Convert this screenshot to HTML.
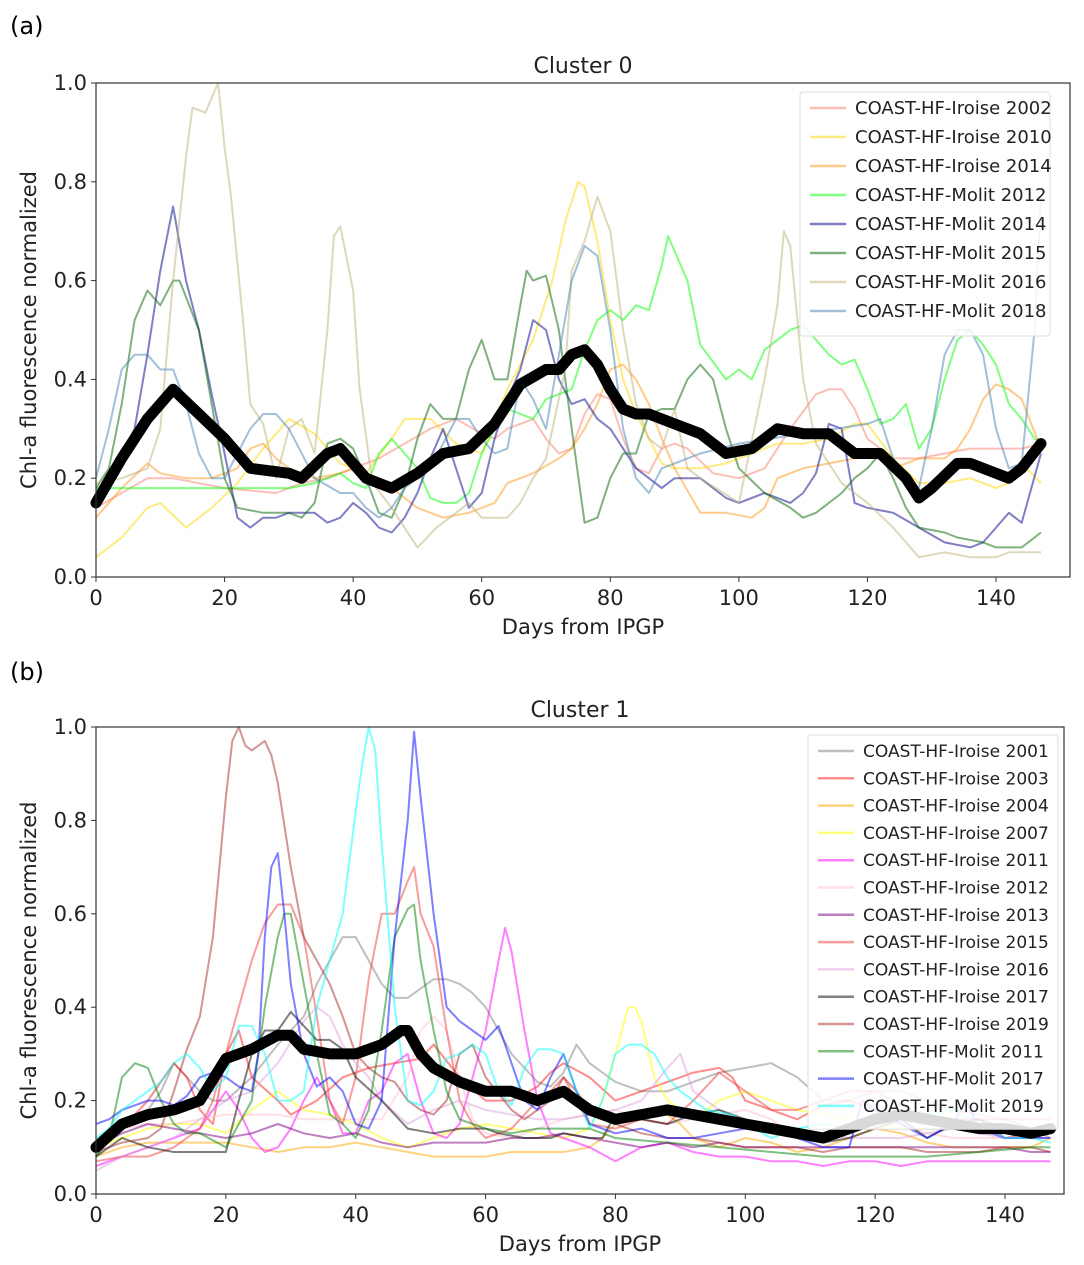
<!DOCTYPE html>
<html><head><meta charset="utf-8">
<style>
body{margin:0;background:#fff;}
svg{display:block;font-family:"DejaVu Sans","Liberation Sans",sans-serif;}
</style></head>
<body>
<svg id="fig" width="1084" height="1265" viewBox="0 0 1084 1265" xmlns="http://www.w3.org/2000/svg">
<text x="10" y="34" font-size="24">(a)</text>
<text x="10" y="680" font-size="24">(b)</text>
</svg>
<script>
// ---------- Panel A data ----------
const catA = ["COAST-HF-Iroise 2002","COAST-HF-Iroise 2010","COAST-HF-Iroise 2014","COAST-HF-Molit 2012","COAST-HF-Molit 2014","COAST-HF-Molit 2015","COAST-HF-Molit 2016","COAST-HF-Molit 2018"];
const colA = ["rgba(250,128,114,0.5)","rgba(255,215,0,0.5)","rgba(255,140,0,0.45)","rgba(0,255,0,0.5)","rgba(0,0,139,0.5)","rgba(0,100,0,0.5)","rgba(189,178,120,0.5)","rgba(70,130,180,0.5)"];
const a_iro2002 = [[0,.14],[4,.17],[8,.2],[12,.2],[20,.18],[28,.17],[32,.19],[36,.2],[40,.22],[44,.24],[48,.27],[52,.3],[56,.32],[60,.29],[62,.28],[64,.3],[66,.31],[68,.32],[70,.28],[72,.25],[74,.26],[76,.33],[78,.37],[80,.36],[82,.28],[84,.22],[86,.21],[88,.26],[90,.27],[92,.26],[96,.21],[100,.2],[104,.22],[108,.3],[112,.37],[114,.38],[116,.38],[118,.34],[120,.28],[124,.24],[128,.24],[132,.25],[136,.26],[140,.26],[144,.26],[147,.27]];
const a_iro2010 = [[0,.04],[4,.08],[8,.14],[10,.15],[14,.1],[18,.14],[22,.19],[26,.26],[30,.32],[34,.29],[38,.23],[42,.21],[46,.28],[48,.32],[52,.32],[56,.27],[60,.25],[64,.38],[68,.48],[71,.6],[73,.72],[75,.8],[76,.79],[78,.68],[80,.52],[82,.4],[84,.33],[86,.28],[88,.23],[90,.22],[94,.22],[98,.23],[102,.25],[106,.27],[110,.27],[114,.28],[118,.31],[120,.31],[124,.24],[128,.19],[132,.19],[136,.2],[140,.18],[142,.19],[144,.23],[147,.19]];
const a_iro2014 = [[0,.12],[4,.18],[8,.23],[10,.21],[14,.2],[18,.2],[22,.22],[24,.26],[26,.27],[28,.24],[30,.22],[34,.2],[38,.21],[40,.22],[44,.2],[50,.14],[54,.12],[58,.13],[62,.15],[64,.19],[66,.2],[68,.21],[72,.24],[74,.26],[76,.3],[78,.35],[80,.42],[82,.43],[84,.4],[86,.35],[88,.28],[90,.22],[94,.13],[98,.13],[102,.12],[104,.14],[106,.2],[110,.22],[114,.23],[118,.24],[120,.26],[124,.22],[128,.24],[132,.24],[134,.26],[136,.3],[138,.36],[140,.39],[142,.38],[144,.36],[147,.26]];
const a_mol2012 = [[0,.18],[10,.18],[22,.18],[30,.18],[34,.19],[36,.2],[38,.21],[40,.19],[42,.18],[44,.25],[46,.28],[48,.25],[50,.22],[52,.16],[54,.15],[56,.15],[58,.17],[60,.25],[62,.3],[64,.34],[66,.33],[68,.32],[70,.36],[72,.37],[74,.38],[76,.46],[78,.52],[80,.54],[82,.52],[84,.55],[86,.54],[88,.63],[89,.69],[92,.6],[94,.47],[98,.4],[100,.42],[102,.4],[104,.46],[108,.5],[110,.51],[112,.48],[114,.45],[116,.43],[118,.44],[120,.38],[122,.31],[124,.32],[126,.35],[128,.26],[130,.3],[132,.4],[134,.48],[136,.5],[138,.47],[140,.43],[142,.35],[144,.32],[146,.28],[147,.27]];
const a_mol2014 = [[0,.17],[2,.2],[6,.3],[8,.45],[10,.62],[12,.75],[14,.6],[16,.5],[18,.37],[20,.25],[22,.12],[24,.1],[26,.12],[28,.12],[30,.13],[34,.13],[36,.11],[38,.12],[40,.15],[42,.13],[44,.1],[46,.09],[48,.12],[50,.17],[52,.24],[54,.3],[56,.22],[58,.14],[60,.17],[62,.28],[64,.36],[66,.42],[68,.52],[70,.5],[72,.4],[74,.35],[76,.36],[78,.32],[80,.3],[82,.26],[84,.22],[86,.2],[88,.18],[90,.2],[94,.2],[98,.16],[100,.15],[104,.17],[108,.15],[110,.17],[112,.21],[114,.31],[116,.3],[118,.15],[120,.14],[124,.13],[128,.1],[132,.07],[136,.06],[138,.07],[140,.1],[142,.13],[144,.11],[147,.25]];
const a_mol2015 = [[0,.18],[2,.22],[4,.35],[6,.52],[8,.58],[10,.55],[12,.6],[13,.6],[16,.5],[18,.35],[20,.2],[22,.14],[26,.13],[30,.13],[32,.12],[34,.15],[36,.27],[38,.28],[40,.26],[42,.2],[44,.13],[46,.12],[48,.18],[50,.28],[52,.35],[54,.32],[56,.32],[58,.42],[60,.48],[62,.4],[64,.4],[66,.55],[67,.62],[68,.6],[70,.61],[72,.5],[74,.3],[76,.11],[78,.12],[80,.2],[82,.25],[84,.25],[86,.33],[88,.34],[90,.34],[92,.4],[94,.43],[96,.4],[98,.3],[100,.22],[104,.17],[108,.14],[110,.12],[112,.13],[116,.17],[118,.2],[120,.22],[122,.25],[124,.2],[126,.14],[128,.1],[132,.09],[134,.08],[138,.07],[140,.06],[144,.06],[147,.09]];
const a_mol2016 = [[0,.19],[4,.2],[8,.22],[10,.3],[12,.6],[14,.85],[15,.95],[17,.94],[19,1.0],[20,.87],[21,.77],[23,.5],[24,.35],[26,.31],[28,.2],[30,.3],[32,.32],[34,.25],[36,.5],[37,.69],[38,.71],[40,.58],[41,.38],[43,.19],[46,.14],[50,.06],[53,.1],[56,.13],[58,.15],[60,.12],[64,.12],[66,.15],[68,.2],[70,.24],[73,.42],[74,.62],[76,.68],[78,.77],[80,.7],[82,.5],[84,.35],[86,.28],[88,.26],[90,.34],[92,.22],[94,.2],[100,.15],[104,.4],[106,.55],[107,.7],[108,.67],[110,.4],[112,.27],[116,.19],[120,.15],[124,.1],[128,.04],[132,.05],[136,.04],[140,.04],[142,.05],[147,.05]];
const a_mol2018 = [[0,.2],[2,.3],[4,.42],[6,.45],[8,.45],[10,.42],[12,.42],[14,.35],[16,.25],[18,.2],[20,.2],[22,.25],[24,.3],[26,.33],[28,.33],[30,.3],[34,.2],[38,.17],[40,.17],[42,.14],[44,.12],[46,.14],[48,.18],[50,.2],[52,.22],[54,.27],[56,.32],[58,.32],[60,.28],[62,.25],[64,.26],[66,.4],[68,.36],[70,.3],[72,.45],[74,.6],[76,.67],[78,.65],[80,.5],[82,.3],[84,.2],[86,.17],[88,.22],[90,.23],[94,.25],[100,.27],[110,.29],[120,.31],[122,.32],[124,.24],[126,.2],[128,.18],[130,.3],[132,.45],[134,.5],[136,.5],[138,.45],[140,.3],[142,.22],[144,.23],[146,.5],[147,.77]];
const a_mean = [[0,.15],[4,.24],[8,.32],[12,.38],[16,.33],[20,.28],[24,.22],[30,.21],[32,.2],[36,.25],[38,.26],[42,.2],[46,.18],[50,.21],[54,.25],[58,.26],[62,.31],[66,.39],[70,.42],[72,.42],[74,.45],[76,.46],[78,.43],[80,.38],[82,.34],[84,.33],[86,.33],[90,.31],[94,.29],[98,.25],[102,.26],[106,.3],[110,.29],[114,.29],[118,.25],[122,.25],[126,.2],[128,.16],[130,.18],[134,.23],[136,.23],[140,.21],[142,.2],[144,.22],[147,.27]];
const seriesA = [a_iro2002,a_iro2010,a_iro2014,a_mol2012,a_mol2014,a_mol2015,a_mol2016,a_mol2018];

// ---------- Panel B data ----------
const catB = ["COAST-HF-Iroise 2001","COAST-HF-Iroise 2003","COAST-HF-Iroise 2004","COAST-HF-Iroise 2007","COAST-HF-Iroise 2011","COAST-HF-Iroise 2012","COAST-HF-Iroise 2013","COAST-HF-Iroise 2015","COAST-HF-Iroise 2016","COAST-HF-Iroise 2017","COAST-HF-Iroise 2019","COAST-HF-Molit 2011","COAST-HF-Molit 2017","COAST-HF-Molit 2019"];
const colB = ["rgba(128,128,128,0.5)","rgba(255,0,0,0.45)","rgba(255,165,0,0.5)","rgba(255,255,0,0.5)","rgba(255,0,255,0.5)","rgba(255,192,203,0.5)","rgba(128,0,128,0.5)","rgba(240,60,60,0.5)","rgba(221,160,221,0.5)","rgba(0,0,0,0.5)","rgba(165,42,42,0.5)","rgba(0,128,0,0.5)","rgba(0,0,255,0.5)","rgba(0,255,255,0.5)"];
const b_iro2001 = [[0,.08],[4,.15],[8,.18],[10,.22],[12,.28],[14,.25],[16,.22],[18,.2],[20,.2],[24,.25],[28,.32],[32,.38],[34,.45],[36,.5],[38,.55],[40,.55],[42,.5],[44,.45],[46,.42],[48,.42],[50,.44],[52,.46],[54,.46],[56,.45],[58,.43],[60,.4],[62,.35],[64,.3],[66,.27],[68,.24],[70,.23],[72,.26],[74,.32],[76,.28],[80,.24],[84,.22],[88,.22],[92,.24],[96,.26],[100,.27],[104,.28],[108,.25],[112,.2],[116,.2],[120,.22],[124,.22],[128,.2],[132,.18],[136,.17],[140,.16],[144,.14],[147,.12]];
const b_iro2003 = [[0,.1],[4,.14],[8,.2],[12,.28],[14,.25],[16,.18],[18,.15],[20,.3],[22,.35],[24,.25],[28,.2],[30,.17],[34,.2],[38,.25],[42,.27],[46,.28],[50,.29],[52,.32],[56,.25],[60,.2],[64,.2],[68,.23],[70,.26],[72,.28],[76,.25],[80,.2],[84,.22],[88,.24],[92,.26],[96,.27],[98,.25],[100,.2],[104,.18],[108,.16],[112,.19],[116,.2],[120,.18],[124,.16],[128,.17],[132,.16],[136,.16],[140,.12],[144,.13],[147,.14]];
const b_iro2004 = [[0,.08],[4,.1],[8,.11],[12,.11],[16,.11],[20,.11],[24,.1],[28,.09],[32,.1],[36,.1],[40,.11],[44,.1],[48,.09],[52,.08],[56,.08],[60,.08],[64,.09],[68,.09],[72,.09],[76,.1],[78,.12],[80,.15],[84,.18],[88,.17],[90,.15],[92,.12],[96,.1],[100,.12],[104,.11],[108,.09],[112,.1],[116,.12],[120,.14],[124,.13],[128,.11],[132,.1],[136,.1],[140,.1],[144,.1],[147,.12]];
const b_iro2007 = [[0,.1],[4,.12],[8,.14],[12,.15],[16,.15],[20,.13],[24,.18],[26,.2],[28,.22],[30,.2],[32,.18],[36,.17],[40,.15],[44,.12],[48,.1],[52,.12],[56,.14],[60,.15],[64,.14],[68,.13],[72,.12],[76,.14],[78,.2],[80,.3],[82,.4],[83,.4],[84,.37],[86,.25],[88,.2],[90,.18],[92,.16],[96,.2],[100,.22],[104,.2],[108,.18],[112,.17],[116,.16],[120,.15],[124,.14],[128,.14],[132,.14],[136,.14],[140,.14],[144,.14],[147,.14]];
const b_iro2011 = [[0,.06],[4,.08],[8,.1],[12,.12],[16,.14],[18,.18],[20,.22],[22,.18],[24,.12],[26,.09],[28,.1],[30,.14],[32,.2],[34,.25],[36,.2],[38,.13],[40,.13],[42,.2],[44,.22],[46,.28],[48,.3],[50,.2],[52,.13],[54,.12],[56,.15],[58,.25],[60,.35],[62,.5],[63,.57],[64,.52],[66,.35],[68,.2],[70,.13],[72,.12],[76,.1],[80,.07],[84,.1],[88,.11],[92,.09],[96,.08],[100,.08],[104,.07],[108,.07],[112,.06],[116,.07],[120,.07],[124,.06],[128,.07],[136,.07],[144,.07],[147,.07]];
const b_iro2012 = [[0,.1],[4,.14],[8,.15],[12,.15],[16,.16],[20,.17],[24,.17],[28,.17],[32,.16],[36,.16],[40,.16],[44,.16],[48,.25],[50,.35],[52,.38],[54,.35],[56,.25],[58,.16],[60,.13],[64,.12],[68,.14],[72,.16],[76,.17],[80,.18],[84,.16],[88,.15],[92,.16],[96,.17],[100,.18],[104,.16],[108,.12],[112,.13],[116,.14],[120,.15],[124,.15],[128,.13],[132,.12],[136,.12],[140,.12],[144,.12],[147,.12]];
const b_iro2013 = [[0,.1],[4,.13],[8,.15],[12,.14],[16,.13],[20,.12],[24,.13],[28,.15],[32,.13],[36,.12],[40,.13],[44,.11],[48,.1],[52,.11],[56,.11],[60,.11],[64,.12],[68,.12],[72,.13],[76,.12],[80,.11],[84,.1],[88,.11],[92,.1],[96,.11],[100,.1],[104,.1],[108,.1],[112,.1],[116,.1],[120,.1],[124,.1],[128,.1],[132,.1],[136,.1],[140,.1],[144,.09],[147,.09]];
const b_iro2015 = [[0,.07],[4,.08],[8,.08],[12,.1],[16,.14],[18,.2],[20,.3],[22,.4],[24,.5],[26,.58],[28,.62],[30,.62],[32,.55],[34,.38],[36,.2],[38,.15],[40,.25],[42,.46],[44,.6],[46,.6],[48,.67],[49,.7],[50,.6],[52,.53],[54,.35],[56,.2],[58,.15],[60,.12],[64,.14],[68,.2],[70,.22],[72,.25],[74,.2],[76,.15],[80,.14],[84,.16],[88,.15],[92,.2],[96,.26],[100,.22],[104,.18],[108,.18],[112,.2],[116,.22],[120,.22],[124,.19],[128,.16],[132,.15],[136,.16],[140,.16],[144,.16],[147,.16]];
const b_iro2016 = [[0,.05],[4,.08],[8,.1],[12,.12],[16,.16],[20,.2],[24,.22],[28,.28],[32,.37],[34,.4],[36,.38],[38,.32],[40,.28],[42,.25],[44,.2],[48,.15],[52,.18],[56,.2],[60,.18],[64,.17],[68,.16],[72,.16],[76,.17],[80,.18],[84,.2],[88,.27],[90,.3],[92,.22],[96,.18],[100,.15],[104,.13],[108,.12],[112,.13],[116,.12],[120,.12],[124,.12],[128,.13],[132,.14],[136,.13],[140,.12],[144,.12],[147,.12]];
const b_iro2017 = [[0,.08],[4,.12],[8,.1],[12,.09],[16,.09],[20,.09],[22,.2],[24,.3],[26,.35],[28,.35],[30,.39],[32,.36],[34,.33],[36,.33],[38,.31],[40,.25],[44,.2],[48,.14],[52,.13],[56,.14],[60,.14],[62,.13],[66,.12],[70,.12],[72,.13],[76,.12],[78,.12],[80,.17],[84,.16],[88,.15],[92,.17],[96,.18],[100,.16],[104,.14],[108,.12],[112,.11],[116,.12],[120,.14],[124,.16],[128,.12],[132,.15],[136,.16],[140,.14],[144,.13],[147,.13]];
const b_iro2019 = [[0,.09],[4,.11],[8,.12],[10,.14],[12,.22],[14,.31],[16,.38],[18,.55],[20,.85],[21,.97],[22,1.0],[23,.96],[24,.95],[26,.97],[27,.94],[28,.88],[30,.7],[32,.55],[34,.5],[36,.45],[38,.38],[40,.3],[42,.27],[44,.25],[46,.24],[48,.2],[50,.18],[52,.17],[54,.2],[56,.3],[58,.32],[60,.25],[64,.18],[66,.16],[70,.2],[72,.25],[74,.22],[76,.18],[80,.15],[84,.13],[88,.12],[92,.12],[96,.11],[100,.1],[104,.1],[108,.1],[112,.09],[116,.1],[120,.1],[124,.1],[128,.09],[132,.09],[136,.09],[140,.1],[144,.1],[147,.09]];
const b_mol2011 = [[0,.08],[2,.12],[4,.25],[6,.28],[8,.27],[10,.2],[12,.15],[14,.13],[16,.13],[20,.1],[24,.2],[26,.4],[28,.55],[29,.6],[30,.6],[32,.45],[34,.3],[36,.17],[38,.15],[40,.12],[42,.18],[44,.35],[46,.55],[48,.61],[49,.62],[50,.5],[52,.35],[54,.22],[56,.16],[60,.14],[64,.13],[68,.14],[72,.14],[76,.14],[80,.12],[88,.11],[96,.1],[104,.09],[112,.08],[120,.08],[128,.08],[136,.09],[144,.1],[147,.1]];
const b_mol2017 = [[0,.15],[2,.16],[4,.18],[6,.19],[8,.2],[10,.2],[12,.19],[14,.21],[16,.25],[18,.26],[20,.25],[22,.23],[24,.22],[25,.3],[26,.55],[27,.7],[28,.73],[29,.6],[30,.45],[32,.3],[34,.23],[36,.25],[38,.22],[40,.15],[42,.14],[44,.2],[46,.55],[48,.8],[49,.99],[50,.85],[52,.6],[54,.4],[56,.37],[58,.35],[60,.33],[62,.36],[64,.28],[66,.2],[68,.18],[70,.25],[72,.3],[74,.22],[76,.15],[80,.13],[84,.14],[88,.12],[92,.12],[96,.13],[100,.14],[104,.15],[108,.12],[112,.1],[116,.1],[118,.2],[120,.18],[124,.15],[128,.12],[132,.15],[134,.2],[136,.14],[140,.12],[144,.12],[147,.12]];
const b_mol2019 = [[0,.12],[2,.14],[4,.18],[6,.2],[8,.22],[10,.24],[12,.28],[14,.3],[16,.27],[18,.22],[20,.25],[22,.36],[24,.36],[26,.3],[28,.2],[30,.2],[32,.22],[34,.4],[36,.5],[38,.6],[40,.82],[41,.92],[42,1.0],[43,.95],[44,.75],[46,.4],[48,.2],[50,.19],[52,.22],[54,.29],[56,.3],[58,.32],[60,.3],[62,.22],[64,.19],[66,.27],[68,.31],[70,.31],[72,.3],[74,.22],[76,.14],[78,.2],[80,.3],[82,.32],[84,.32],[86,.3],[88,.25],[90,.22],[94,.18],[98,.17],[100,.15],[104,.12],[108,.14],[112,.15],[116,.14],[120,.15],[124,.16],[128,.17],[132,.18],[136,.15],[140,.12],[144,.12],[147,.11]];
const b_mean = [[0,.1],[4,.15],[8,.17],[12,.18],[16,.2],[20,.29],[24,.31],[28,.34],[30,.34],[32,.31],[36,.3],[40,.3],[44,.32],[47,.35],[48,.35],[50,.3],[52,.27],[56,.24],[60,.22],[64,.22],[68,.2],[70,.21],[72,.22],[74,.2],[76,.18],[80,.16],[84,.17],[88,.18],[92,.17],[96,.16],[100,.15],[104,.14],[108,.13],[112,.12],[116,.14],[120,.16],[124,.17],[128,.16],[132,.15],[136,.14],[140,.14],[144,.13],[147,.14]];
const seriesB = [b_iro2001,b_iro2003,b_iro2004,b_iro2007,b_iro2011,b_iro2012,b_iro2013,b_iro2015,b_iro2016,b_iro2017,b_iro2019,b_mol2011,b_mol2017,b_mol2019];

const xTicks = [0,20,40,60,80,100,120,140];
const yTicks = [0,0.2,0.4,0.6,0.8,1.0];

const NS = "http://www.w3.org/2000/svg";
const svg = document.getElementById('fig');
function mk(tag, attrs, parent){
  const e = document.createElementNS(NS, tag);
  for (const k in attrs) e.setAttribute(k, attrs[k]);
  (parent||svg).appendChild(e);
  return e;
}

function panel(P){
  const g = mk('g', {});
  
  
  const sx = d => P.x0 + d * (P.x140 - P.x0) / 140;
  const sy = v => P.y0 - v * (P.y0 - P.y1);
  P.series.forEach((s, i) => {
    const pl = mk('polyline', {points: s.map(p => sx(p[0]).toFixed(1)+','+sy(p[1]).toFixed(1)).join(' '), fill:'none', stroke:P.colors[i], 'stroke-width':2, 'stroke-linejoin':'round'}, g);
    
    
  });
  const mean = mk('polyline', {points: P.mean.map(p => sx(p[0]).toFixed(1)+','+sy(p[1]).toFixed(1)).join(' '), fill:'none', stroke:'#000', 'stroke-width':11, 'stroke-linejoin':'round', 'stroke-linecap':'round'}, g);
  
  
  const fr = mk('rect', {x:P.x0, y:P.y1, width:P.xr-P.x0, height:P.y0-P.y1, fill:'none', stroke:'#333', 'stroke-width':1.2}, g);
  
  
  xTicks.forEach(t => {
    const x = sx(t);
    mk('line', {x1:x, x2:x, y1:P.y0, y2:P.y0+5, stroke:'#333'}, g);
    const tx = mk('text', {x:x, y:P.y0+28, 'font-size':21, 'text-anchor':'middle', fill:'#222'}, g);
    tx.textContent = t;
    
    
  });
  yTicks.forEach(t => {
    const y = sy(t);
    mk('line', {x1:P.x0-5, x2:P.x0, y1:y, y2:y, stroke:'#333'}, g);
    const ty = mk('text', {x:P.x0-9, y:y+7, 'font-size':21, 'text-anchor':'end', fill:'#222'}, g);
    ty.textContent = t.toFixed(1);
    
    
  });
  const title = mk('text', {x:(P.x0+P.xr)/2, y:P.y1-10, 'font-size':22, 'text-anchor':'middle', fill:'#222'}, g);
  title.textContent = P.title;
  
  
  const xl = mk('text', {x:(P.x0+P.xr)/2, y:P.y0+57, 'font-size':21, 'text-anchor':'middle', fill:'#222'}, g);
  xl.textContent = 'Days from IPGP';
  
  
  const ym = (P.y0+P.y1)/2;
  const yl = mk('text', {x:36, y:ym, 'font-size':21, 'text-anchor':'middle', fill:'#222', transform:'rotate(-90 36 '+ym+')'}, g);
  yl.textContent = 'Chl-a fluorescence normalized';
  
  
  const lg = mk('g', {}, g);
  
  
  mk('rect', {x:P.lx, y:P.ly, width:P.lw, height:P.cats.length*P.ls+12, rx:3, fill:'rgba(255,255,255,0.85)', stroke:'#ddd'}, lg);
  P.cats.forEach((c, i) => {
    const y = P.ly + 16 + i*P.ls;
    mk('line', {x1:P.lx+10, x2:P.lx+46, y1:y, y2:y, stroke:P.colors[i], 'stroke-width':2.5}, lg);
    const t = mk('text', {x:P.lx+55, y:y+6, 'font-size':P.lf, fill:'#222'}, lg);
    t.textContent = c;
    
    
  });
}

panel({key:'cluster-0', title:'Cluster 0', x0:96, x140:996, xr:1070, y0:577, y1:83, series:seriesA, mean:a_mean, cats:catA, colors:colA, lx:800, ly:92, lw:250, ls:29, lf:18});
panel({key:'cluster-1', title:'Cluster 1', x0:96, x140:1005, xr:1064, y0:1194, y1:727, series:seriesB, mean:b_mean, cats:catB, colors:colB, lx:808, ly:735, lw:250, ls:27.3, lf:17});
</script>
</body></html>
